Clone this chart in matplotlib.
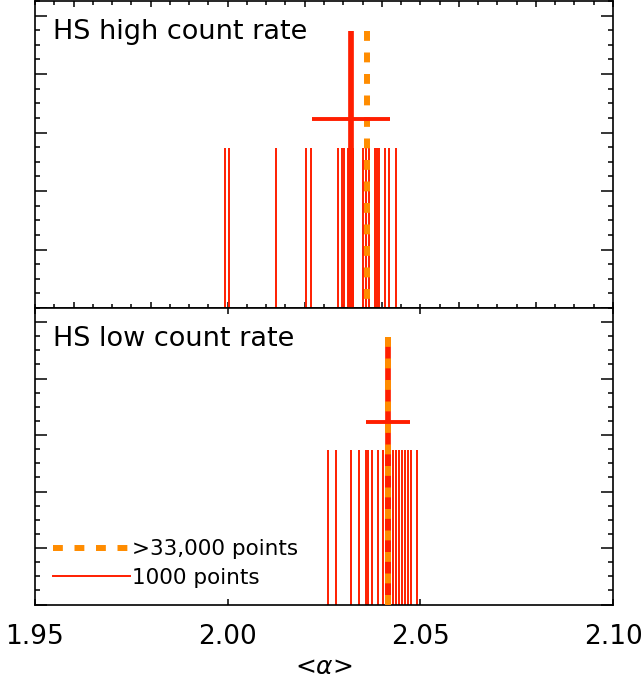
import matplotlib
matplotlib.use("Agg")
import matplotlib.pyplot as plt
from matplotlib.ticker import MultipleLocator, NullFormatter
from matplotlib.lines import Line2D

# ---- data -------------------------------------------------------------
# <alpha> estimates from 1000-point sub-samples
high_1000 = [1.9992, 2.0003, 2.0126, 2.0202, 2.0215, 2.0287, 2.0297, 2.0303,
             2.0313, 2.0318, 2.0326, 2.0352, 2.0359, 2.0367, 2.0383, 2.0388,
             2.0393, 2.0408, 2.0418, 2.0436]
low_1000 = [2.0261, 2.0282, 2.0321, 2.0340, 2.0359, 2.0365, 2.0374, 2.0389,
            2.0404, 2.0411, 2.0422, 2.0430, 2.0438, 2.0444, 2.0452, 2.0461,
            2.0469, 2.0477, 2.0491]

# mean of the sub-samples and its spread
high_mean, high_err = 2.0321, 0.0101
low_mean, low_err = 2.0417, 0.0057

# estimate from the full (>33,000 point) light curve
high_full = 2.0361
low_full = 2.0417

panel_titles = ["HS high count rate", "HS low count rate"]
xtick_values = [1.95, 2.00, 2.05, 2.10]
xtick_labels = ["1.95", "2.00", "2.05", "2.10"]

# bar heights (arbitrary units)
h_sub = 2.73
h_mean = 4.73
h_cross = 3.23

# ---- style ------------------------------------------------------------
RED = "#ff1e00"
ORANGE = "#ff8c00"
DASH = (0, (1.65, 1.95))

plt.rcParams["font.family"] = ["DejaVu Sans"]
plt.rcParams["mathtext.fontset"] = "dejavusans"

fig = plt.figure(figsize=(6.44, 6.87), dpi=100)
left, right = 35 / 644, 613 / 644
ax_top = fig.add_axes([left, 1 - 308 / 687, right - left, (308 - 1) / 687])
ax_bot = fig.add_axes([left, 1 - 604.5 / 687, right - left, (604.5 - 308) / 687])

panels = [
    (ax_top, high_1000, high_mean, high_err, high_full),
    (ax_bot, low_1000, low_mean, low_err, low_full),
]

for i, (ax, subs, mean, err, full) in enumerate(panels):
    ax.vlines(subs, 0, h_sub, color=RED, lw=1.4, zorder=2)
    ax.vlines(mean, 0, h_mean, color=RED, lw=4.1, zorder=3)
    # dash pattern runs from the top of the bar downwards
    dashed = ax.vlines(full, h_mean, 0, color=ORANGE, lw=4.3, zorder=4,
                       linestyles=DASH)
    dashed.set_capstyle("butt")
    ax.errorbar(mean, h_cross, xerr=err, fmt="none", ecolor=RED,
                elinewidth=2.8, capsize=0, zorder=5)

    ax.set_xlim(1.95, 2.10)
    ax.set_ylim(0, 5.25)
    ax.text(0.031, 0.94, panel_titles[i], transform=ax.transAxes,
            fontsize=19.5, ha="left", va="top")

    ax.yaxis.set_major_locator(MultipleLocator(1))
    ax.yaxis.set_minor_locator(MultipleLocator(0.25))
    ax.yaxis.set_major_formatter(NullFormatter())
    ax.tick_params(axis="y", which="major", direction="in", length=8.5,
                   width=1.1, left=True, right=True)
    ax.tick_params(axis="y", which="minor", direction="in", length=3.8,
                   width=1.1, left=True, right=True)
    for s in ax.spines.values():
        s.set_linewidth(1.2)

# top panel x ticks: unlabeled, fine spacing
ax_top.xaxis.set_major_locator(MultipleLocator(0.02))
ax_top.xaxis.set_minor_locator(MultipleLocator(0.005))
ax_top.xaxis.set_major_formatter(NullFormatter())
ax_top.tick_params(axis="x", which="major", direction="in", length=4.5,
                   width=1.1, top=True, bottom=True)
ax_top.tick_params(axis="x", which="minor", direction="in", length=3.0,
                   width=1.1, top=True, bottom=True)

# bottom panel x ticks: labeled
ax_bot.set_xticks(xtick_values)
ax_bot.set_xticklabels(xtick_labels, fontsize=19)
ax_bot.tick_params(axis="x", which="major", direction="in", length=4.5,
                   width=1.1, top=True, bottom=True, pad=14)
ax_bot.set_xlabel(r"<$\alpha$>", fontsize=18, labelpad=4)

handles = [
    Line2D([], [], color=ORANGE, lw=4.3, linestyle=DASH,
           dash_capstyle="butt"),
    Line2D([], [], color=RED, lw=1.4),
]
ax_bot.legend(handles, [">33,000 points", "1000 points"], loc="lower left",
              bbox_to_anchor=(0.009, 0.012), frameon=False, fontsize=15.5,
              handlelength=3.55, handletextpad=0.1, labelspacing=0.4,
              borderaxespad=0.3, borderpad=0.3)

fig.savefig("out.png", dpi=100)
